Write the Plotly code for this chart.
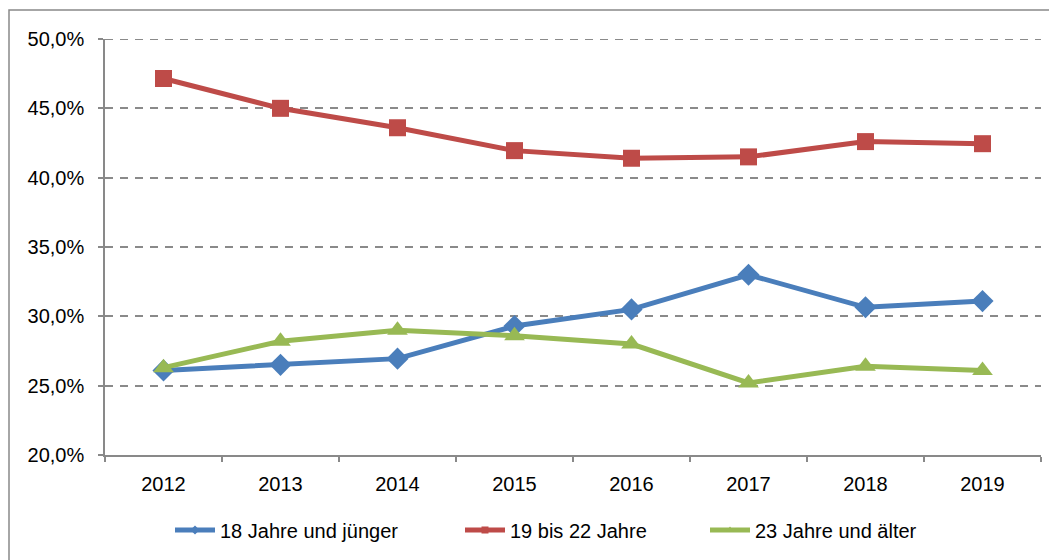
import plotly.graph_objects as go

years = ["2012", "2013", "2014", "2015", "2016", "2017", "2018", "2019"]
s18 = [26.1, 26.5, 26.95, 29.3, 30.5, 33.0, 30.65, 31.1]
s19_22 = [47.15, 45.0, 43.6, 41.95, 41.4, 41.5, 42.6, 42.45]
s23 = [26.3, 28.2, 29.0, 28.6, 28.0, 25.2, 26.4, 26.1]

names = ["18 Jahre und jünger", "19 bis 22 Jahre", "23 Jahre und älter"]
colors = ["#4a7ebb", "#be4b48", "#98b954"]
symbols = ["diamond", "square", "triangle-up"]
msizes = [17, 17, 18]
legend_ids = ["legend", "legend2", "legend3"]

fig = go.Figure()
for name, vals, col, sym, ms, lid in zip(names, [s18, s19_22, s23], colors, symbols, msizes, legend_ids):
    fig.add_trace(go.Scatter(
        x=years, y=vals, name=name, mode="lines+markers",
        line=dict(color=col, width=5),
        marker=dict(symbol=sym, size=ms, color=col),
        showlegend=False,
    ))
    # legend entry with small marker, as in the original
    fig.add_trace(go.Scatter(
        x=[None], y=[None], name=name, mode="lines+markers",
        line=dict(color=col, width=5),
        marker=dict(symbol=sym, size=7, color=col),
        legend=lid, showlegend=True,
    ))

OFF = 8  # page body margin
W, H = 1049, 552
L, R, T, B = 105 - OFF, 16, 39 - OFF, 104
pw, ph = W - L - R, H - T - B

def px_x(page_x):
    return (page_x - OFF - L) / pw

def px_y(page_y):
    return (T + ph - (page_y - OFF)) / ph

def leg(page_x):
    return dict(orientation="h", x=px_x(page_x), xanchor="left",
                y=px_y(530), yanchor="middle", font=dict(size=20),
                itemwidth=40, bgcolor="rgba(0,0,0,0)")

fig.update_layout(
    width=W, height=H,
    margin=dict(l=L, r=R, t=T, b=B),
    paper_bgcolor="white", plot_bgcolor="white",
    font=dict(family="Liberation Sans, Arial, sans-serif", size=20, color="black"),
    separators=",.",
    showlegend=True,
    legend=leg(170),
    legend2=leg(460),
    legend3=leg(705),
    xaxis=dict(type="category", range=[-0.5, 7.5], tickson="boundaries",
               ticks="outside", ticklen=5, tickcolor="#898989", tickwidth=1.5,
               ticklabelstandoff=10,
               showline=True, linecolor="#898989", linewidth=1.5,
               showgrid=False, zeroline=False, fixedrange=True),
    yaxis=dict(range=[20, 50], tick0=20, dtick=5, tickformat=".1f", ticksuffix="%",
               ticks="outside", ticklen=5, tickcolor="#898989", tickwidth=1.5,
               ticklabelstandoff=10,
               showline=True, linecolor="#898989", linewidth=1.5,
               showgrid=True, gridcolor="#8a8a8a", gridwidth=2, griddash="8px,7px",
               zeroline=False, fixedrange=True),
)

# top gridline at 50 % (plotly hides the grid line on the plot edge)
fig.add_shape(type="line", xref="paper", yref="y", x0=0, x1=1, y0=50, y1=50,
              line=dict(color="#8a8a8a", width=2, dash="8px,7px"), layer="below")

# outer chart frame
fig.add_shape(type="rect", xref="paper", yref="paper",
              x0=px_x(9), x1=px_x(W + 20),
              y0=px_y(H + 20), y1=px_y(10),
              line=dict(color="#898989", width=1.5), fillcolor="rgba(0,0,0,0)",
              layer="below")

fig.write_html("out.html")
